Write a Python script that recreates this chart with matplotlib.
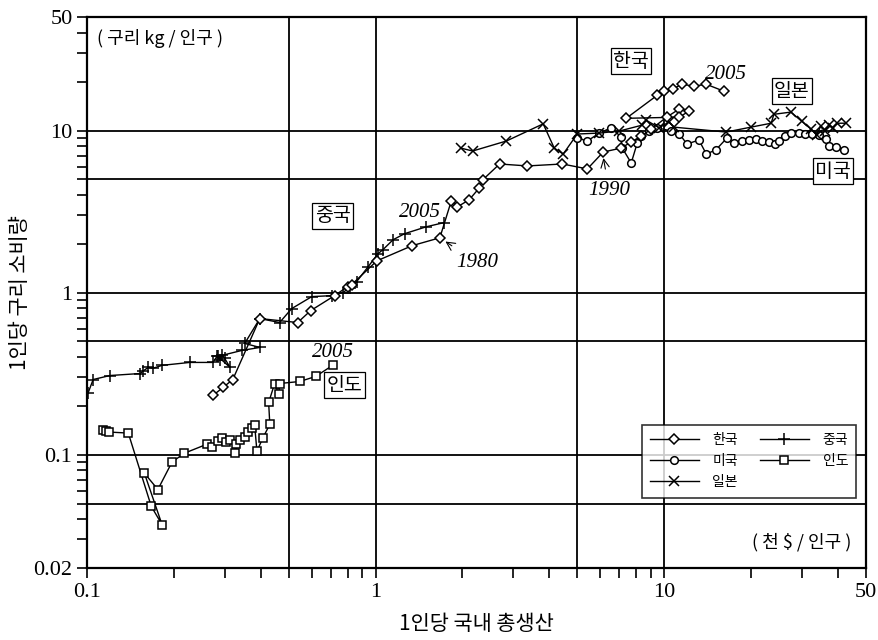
# Per-capita copper consumption vs per-capita GDP (log-log)

import matplotlib
matplotlib.use("Agg")
import matplotlib.pyplot as plt
from matplotlib.ticker import FixedLocator, LogLocator, NullFormatter, FixedFormatter

plt.rcParams['font.family'] = ['Noto Sans CJK KR', 'DejaVu Sans']

# Data (GDP per capita in k$, copper kg per capita)
korea_gdp = [0.273, 0.296, 0.320, 0.397, 0.537, 0.596, 0.721, 0.800, 0.826, 1.01, 1.34, 1.67,
             1.83, 1.92, 2.11, 2.29, 2.35, 2.69, 3.36, 4.44, 5.42, 6.15,
             7.10, 7.69, 8.33, 9.02, 10.2, 11.3, 12.2, 11.3, 7.39,
             9.46, 10.0, 10.7, 11.5, 12.7, 14.0, 16.1]
korea_cu = [0.232, 0.260, 0.291, 0.692, 0.654, 0.775, 0.958, 1.09, 1.12, 1.57, 1.95, 2.18,
            3.68, 3.38, 3.74, 4.43, 4.96, 6.22, 6.05, 6.22, 5.80, 7.37,
            7.80, 8.50, 9.25, 10.2, 12.1, 13.6, 13.2, 12.1, 11.9,
            16.5, 17.5, 18.0, 19.3, 18.8, 19.3, 17.5]

usa_gdp = [5.00, 5.42, 5.96, 6.55, 7.10, 7.16, 7.69, 8.07, 8.33, 8.87, 9.46, 10.6,
           11.3, 12.0, 13.2, 14.0, 15.1, 16.5, 17.5, 18.6, 19.7, 20.8,
           21.8, 23.1, 24.2, 25.0, 26.2, 27.5, 29.3, 30.8, 32.5, 34.4,
           36.4, 37.2, 39.4, 42.0]
usa_cu = [8.99, 8.62, 9.65, 10.4, 9.12, 7.80, 6.31, 8.38, 9.25, 9.93, 10.4, 9.93,
          9.52, 8.26, 8.74, 7.17, 7.59, 8.99, 8.38, 8.62, 8.74, 8.87,
          8.62, 8.50, 8.26, 8.62, 9.25, 9.65, 9.65, 9.52, 9.52, 9.38,
          8.87, 8.03, 7.91, 7.59]

japan_gdp = [1.97, 2.17, 2.84, 3.81, 4.16, 4.47, 5.00, 5.96, 6.99, 8.39, 8.66, 9.61,
             10.4, 10.8, 16.4, 20.0, 23.5, 24.0, 27.5, 30.0, 32.3, 33.8,
             34.9, 36.1, 37.2, 38.5, 39.7, 42.6]
japan_cu = [7.80, 7.48, 8.62, 11.0, 7.80, 7.17, 9.52, 9.65, 9.93, 10.8, 11.6, 10.4,
            11.3, 10.5, 9.79, 10.5, 11.1, 12.6, 13.0, 11.4, 10.2, 9.38,
            10.7, 9.93, 10.8, 10.4, 11.1, 11.1]

china_gdp = [0.101, 0.105, 0.120, 0.153, 0.156, 0.163, 0.169, 0.182, 0.227, 0.273, 0.282,
             0.289, 0.293, 0.300, 0.313, 0.284, 0.344, 0.397, 0.352, 0.397, 0.465,
             0.512, 0.601, 0.704, 0.769, 0.813, 0.860, 0.938, 1.02, 1.06, 1.15,
             1.26, 1.50, 1.72]
china_cu = [0.242, 0.291, 0.308, 0.317, 0.327, 0.346, 0.341, 0.356, 0.371, 0.371, 0.404,
            0.382, 0.415, 0.393, 0.346, 0.404, 0.440, 0.459, 0.486, 0.692, 0.654,
            0.797, 0.945, 0.958, 1.00, 1.07, 1.17, 1.43, 1.74, 1.84, 2.12,
            2.31, 2.55, 2.70]

india_gdp = [0.114, 0.116, 0.119, 0.139, 0.167, 0.182, 0.158, 0.176, 0.197, 0.217, 0.260,
             0.271, 0.284, 0.293, 0.303, 0.313, 0.328, 0.325, 0.338, 0.352, 0.361,
             0.372, 0.381, 0.388, 0.406, 0.430, 0.426, 0.447, 0.462, 0.465, 0.546,
             0.620, 0.710]
india_cu = [0.142, 0.140, 0.138, 0.136, 0.048, 0.037, 0.077, 0.061, 0.090, 0.102, 0.116,
            0.111, 0.121, 0.126, 0.119, 0.123, 0.116, 0.102, 0.123, 0.128, 0.138,
            0.146, 0.152, 0.105, 0.126, 0.154, 0.210, 0.275, 0.236, 0.275, 0.283,
            0.304, 0.356]

names = ['한국', '미국', '일본', '중국', '인도']

fig = plt.figure(figsize=(8.79, 6.4), dpi=100)
ax = fig.add_axes([0.099, 0.1125, 0.886, 0.8605])

mk = dict(color='black', lw=1.0, mfc='white', mec='black', mew=1.1)
ax.plot(korea_gdp, korea_cu, marker='D', ms=5, label=names[0], zorder=5, **mk)
ax.plot(usa_gdp, usa_cu, marker='o', ms=5.5, label=names[1], zorder=4, **mk)
ax.plot(japan_gdp, japan_cu, marker='x', ms=7.5, label=names[2], zorder=4, **mk)
ax.plot(china_gdp, china_cu, marker='+', ms=9, label=names[3], zorder=4, **mk)
ax.plot(india_gdp, india_cu, marker='s', ms=5.5, label=names[4], zorder=4, **mk)

ax.set_xscale('log')
ax.set_yscale('log')
ax.set_xlim(0.1, 50)
ax.set_ylim(0.02, 50)

# grid lines
for gx in [0.5, 1, 5, 10]:
    ax.axvline(gx, color='black', lw=1.3, zorder=1)
for gy in [0.05, 0.1, 0.5, 1, 5, 10]:
    ax.axhline(gy, color='black', lw=1.3, zorder=1)

ax.xaxis.set_major_locator(FixedLocator([0.1, 1, 10, 50]))
ax.xaxis.set_major_formatter(FixedFormatter(['0.1', '1', '10', '50']))
ax.xaxis.set_minor_locator(LogLocator(base=10, subs=range(2, 10)))
ax.xaxis.set_minor_formatter(NullFormatter())
ax.yaxis.set_major_locator(FixedLocator([0.02, 0.1, 1, 10, 50]))
ax.yaxis.set_major_formatter(FixedFormatter(['0.02', '0.1', '1', '10', '50']))
ax.yaxis.set_minor_locator(LogLocator(base=10, subs=range(2, 10)))
ax.yaxis.set_minor_formatter(NullFormatter())

ax.tick_params(which='both', direction='out', length=7, width=1.2, color='black')
for lab in ax.get_xticklabels() + ax.get_yticklabels():
    lab.set_fontfamily('Liberation Serif')
    lab.set_fontsize(16)

for s in ax.spines.values():
    s.set_linewidth(1.6)

ax.set_xlabel('1인당 국내 총생산', fontsize=15, labelpad=8)
ax.set_ylabel('1인당 구리 소비량', fontsize=15, labelpad=2)

# unit labels
ax.text(0.013, 0.978, '( 구리 kg / 인구 )', transform=ax.transAxes, fontsize=13,
        ha='left', va='top')
ax.text(0.982, 0.03, '( 천 $ / 인구 )', transform=ax.transAxes, fontsize=13,
        ha='right', va='bottom')

# country boxes
box = dict(boxstyle='square,pad=0.12', fc='white', ec='black', lw=0.9)
ax.text(7.69, 26.8, '한국', fontsize=14, ha='center', va='center', bbox=box, zorder=6)
ax.text(27.7, 17.5, '일본', fontsize=14, ha='center', va='center', bbox=box, zorder=6)
ax.text(38.5, 5.63, '미국', fontsize=14, ha='center', va='center', bbox=box, zorder=6)
ax.text(0.710, 2.98, '중국', fontsize=14, ha='center', va='center', bbox=box, zorder=6)
ax.text(0.781, 0.268, '인도', fontsize=14, ha='center', va='center', bbox=box, zorder=6)

# year labels
yr = dict(fontfamily='Liberation Serif', style='italic', fontsize=15, ha='center', va='center')
ax.text(16.4, 22.3, '2005', **yr)
ax.text(1.42, 3.11, '2005', **yr)
ax.text(0.71, 0.4275, '2005', **yr)
ax.annotate('1990', xy=(6.15, 6.9), xytext=(6.45, 4.24), textcoords='data',
            arrowprops=dict(arrowstyle='->', lw=0.8, color='black', shrinkA=7, shrinkB=1), **yr)
ax.annotate('1980', xy=(1.73, 2.09), xytext=(2.25, 1.53), textcoords='data',
            arrowprops=dict(arrowstyle='->', lw=0.8, color='black', shrinkA=6, shrinkB=1), **yr)

leg = ax.legend(loc='lower right', bbox_to_anchor=(0.988, 0.128), ncol=2, fontsize=10,
                frameon=True, fancybox=False, edgecolor='black', handlelength=3.5,
                handletextpad=1.0, borderaxespad=0, columnspacing=1.6, labelspacing=0.5,
                borderpad=0.6)
leg.get_frame().set_linewidth(1.2)
leg.set_zorder(7)

fig.savefig('out.png', dpi=100)
